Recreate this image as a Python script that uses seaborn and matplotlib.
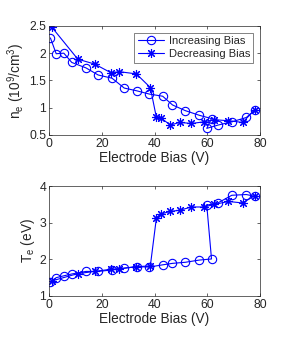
import matplotlib
matplotlib.use("Agg")
import matplotlib.pyplot as plt
import seaborn as sns
import pandas as pd

# Increasing bias sweep
inc_bias = [0.5, 2.7, 5.6, 8.6, 14.0, 18.6, 23.9, 28.5, 33.2, 38.0, 43.1, 46.8, 51.7, 57.0, 61.6, 59.8, 64.0, 69.3, 74.8, 78.1]
inc_ne = [2.28, 1.99, 2.00, 1.83, 1.73, 1.60, 1.54, 1.36, 1.31, 1.25, 1.21, 1.05, 0.945, 0.86, 0.80, 0.62, 0.68, 0.74, 0.82, 0.96]
inc_te = [1.37, 1.50, 1.55, 1.60, 1.67, 1.67, 1.71, 1.76, 1.80, 1.79, 1.85, 1.89, 1.92, 1.98, 2.01, 3.48, 3.54, 3.75, 3.77, 3.72]

# Decreasing bias sweep
dec_bias = [1.0, 10.9, 17.3, 23.5, 26.7, 33.1, 38.4, 40.7, 42.5, 46.0, 49.5, 54.0, 58.7, 62.7, 68.0, 73.4, 78.0]
dec_ne = [2.48, 1.89, 1.80, 1.64, 1.66, 1.62, 1.37, 0.82, 0.81, 0.68, 0.73, 0.71, 0.74, 0.78, 0.76, 0.73, 0.96]
dec_te = [1.41, 1.61, 1.67, 1.73, 1.74, 1.80, 1.82, 3.13, 3.24, 3.31, 3.34, 3.43, 3.43, 3.50, 3.58, 3.54, 3.74]

labels = ["Increasing Bias", "Decreasing Bias"]
xticks = [0, 20, 40, 60, 80]
ne_ticks = [0.5, 1, 1.5, 2, 2.5]
te_ticks = [1, 2, 3, 4]

sns.set_theme(style="white")
plt.rcParams["font.family"] = ["Liberation Sans", "DejaVu Sans"]
plt.rcParams["mathtext.fontset"] = "custom"
plt.rcParams["mathtext.rm"] = "Liberation Sans"
plt.rcParams["mathtext.it"] = "Liberation Sans"

inc = pd.DataFrame({"bias": inc_bias, "ne": inc_ne, "te": inc_te})
dec = pd.DataFrame({"bias": dec_bias, "ne": dec_ne, "te": dec_te})

fig = plt.figure(figsize=(2.87, 3.39), dpi=100)
ax1 = fig.add_axes([0.171, 0.602, 0.735, 0.3215])
ax2 = fig.add_axes([0.171, 0.127, 0.735, 0.324])

blue = (0, 0, 1)
axcol = "#262626"

for ax, col, yt, ylim, ylab in [
    (ax1, "ne", ne_ticks, (0.5, 2.5), r"n$_e$ (10$^9$/cm$^3$)"),
    (ax2, "te", te_ticks, (1, 4), r"T$_e$ (eV)"),
]:
    sns.lineplot(data=inc, x="bias", y=col, ax=ax, sort=False, estimator=None,
                 color=blue, lw=0.8, marker="o", markersize=6,
                 markerfacecolor="none", markeredgecolor=blue, markeredgewidth=0.8,
                 label=labels[0])
    sns.lineplot(data=dec, x="bias", y=col, ax=ax, sort=False, estimator=None,
                 color=blue, lw=0.8, marker=(8, 2, 0), markersize=6.5,
                 markeredgecolor=blue, markeredgewidth=0.8,
                 label=labels[1])
    ax.set_xlim(0, 80)
    ax.set_ylim(*ylim)
    ax.set_xticks(xticks)
    ax.set_yticks(yt)
    ax.set_yticklabels([f"{v:g}" for v in yt])
    ax.set_xlabel("Electrode Bias (V)", fontsize=9.8, color=axcol, labelpad=1)
    ax.set_ylabel(ylab, fontsize=9.8, color=axcol, labelpad=2)
    ax.tick_params(direction="in", length=2.5, width=0.5, labelsize=8.8,
                   colors=axcol, top=True, right=True, bottom=True, left=True, pad=2)
    for s in ax.spines.values():
        s.set_color(axcol)
        s.set_linewidth(0.5)
        s.set_visible(True)

leg = ax1.legend(loc="upper right", fontsize=8, frameon=True, fancybox=False,
                 edgecolor=axcol, borderpad=0.3, handlelength=2.4, labelspacing=0.3,
                 borderaxespad=0.6, handletextpad=0.4)
leg.get_frame().set_linewidth(0.5)
ax2.get_legend().remove()

fig.savefig("out.png", dpi=100, facecolor="white")
